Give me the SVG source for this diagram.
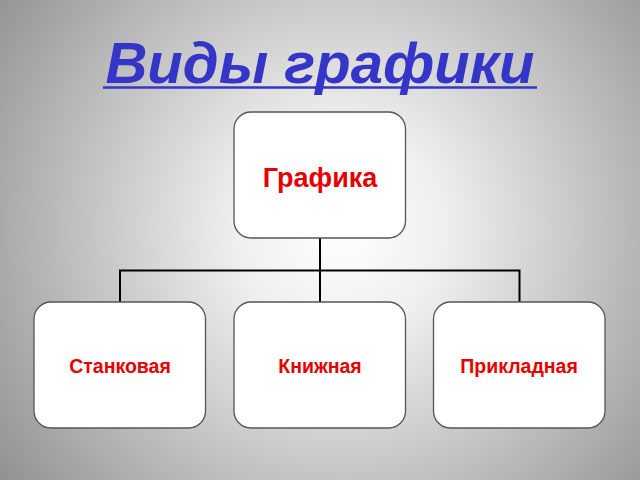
<svg xmlns="http://www.w3.org/2000/svg" width="640" height="480" viewBox="0 0 640 480">
  <defs>
    <radialGradient id="bg" cx="340" cy="230" r="420" gradientUnits="userSpaceOnUse">
      <stop offset="0" stop-color="#ffffff"/>
      <stop offset="0.25" stop-color="#efefef"/>
      <stop offset="1" stop-color="#929292"/>
    </radialGradient>
  </defs>
  <style>
    .box { fill: #ffffff; stroke: #555555; stroke-width: 1.3; }
    .lbl { font-family: "Liberation Sans", Arial, sans-serif; font-weight: bold; fill: #e60000; text-anchor: middle; }
    .conn { fill: none; stroke: #000000; stroke-width: 2; }
  </style>
  <rect x="0" y="0" width="640" height="480" fill="url(#bg)"/>
  <g id="title">
    <text x="320" y="83" font-family="'Liberation Sans', Arial, sans-serif" font-size="58" font-weight="bold" font-style="italic" fill="#3535c8" text-anchor="middle">Виды графики</text>
    <line x1="103" y1="87.5" x2="537" y2="87.5" stroke="#3535c8" stroke-width="2.6"/>
  </g>
  <g id="connectors">
    <path class="conn" d="M320 238 V302"/>
    <path class="conn" d="M120 302 V270.5 H519.5 V302"/>
  </g>
  <g id="node-grafika">
    <rect class="box" x="234" y="112" width="171.5" height="126" rx="17"/>
    <text class="lbl" x="320" y="187" font-size="27">Графика</text>
  </g>
  <g id="node-stankovaya">
    <rect class="box" x="34" y="302" width="171.5" height="126" rx="17"/>
    <text class="lbl" x="120" y="373" font-size="19.5">Станковая</text>
  </g>
  <g id="node-knizhnaya">
    <rect class="box" x="234" y="302" width="171.5" height="126" rx="17"/>
    <text class="lbl" x="320" y="373" font-size="19.5">Книжная</text>
  </g>
  <g id="node-prikladnaya">
    <rect class="box" x="433.5" y="302" width="171.5" height="126" rx="17"/>
    <text class="lbl" x="519" y="373" font-size="19.5">Прикладная</text>
  </g>
</svg>
